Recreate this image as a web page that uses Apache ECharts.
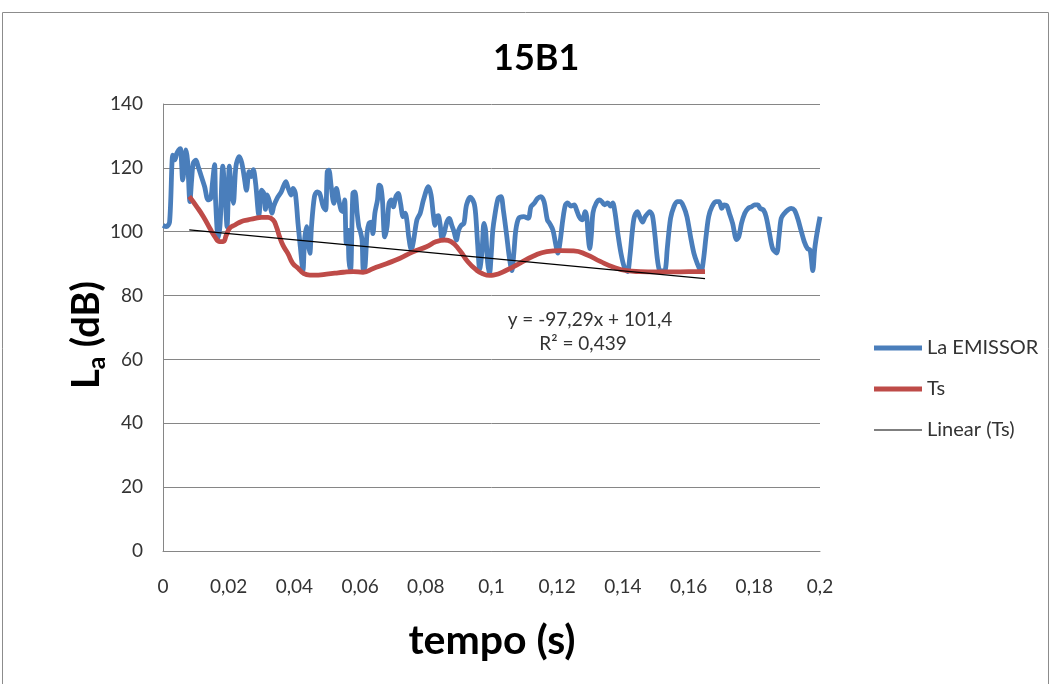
<!DOCTYPE html>
<html><head><meta charset="utf-8">
<script src="https://cdn.jsdelivr.net/npm/echarts@6/dist/echarts.min.js"></script>
<style>html,body{margin:0;padding:0;background:#fff}#c{width:1050px;height:684px}</style>
</head><body><div id="c"></div>
<script>
const chartTitle = '15B1';
const xAxisName = 'tempo (s)';
const yAxisNameParts = ['L', 'a', ' (dB)'];
const seriesNames = ['La EMISSOR', 'Ts', 'Linear (Ts)'];
const trendLabels = ['y = -97,29x + 101,4', 'R² = 0,439'];

const laEmissor = [
[0,102],[0.001,101.6],[0.002,103],[0.003,124],[0.0036,122.5],[0.0042,124.5],[0.0048,125.6],[0.0053,126],[0.006,116.2],[0.0065,120.4],[0.007,125.6],[0.0075,122],[0.0082,109.4],[0.0087,116],[0.0092,121.4],[0.010,122.4],[0.0107,120.4],[0.0117,117.2],[0.0127,114],[0.0137,110],[0.0145,110.4],[0.015,114.6],[0.0157,121],[0.016,110],[0.0168,98],[0.0174,102.7],[0.0182,120.5],[0.0189,111],[0.0195,101.6],[0.0202,120.5],[0.0208,113],[0.0214,108.9],[0.0222,120.5],[0.0232,123.5],[0.024,121.5],[0.0247,117.3],[0.0254,113],[0.0262,118.8],[0.0268,117.3],[0.0275,119.4],[0.0282,115.1],[0.0292,105.2],[0.030,113],[0.0307,112],[0.0312,107],[0.0317,111.5],[0.0324,109.5],[0.0332,105.8],[0.0337,108],[0.0347,110.4],[0.036,112.5],[0.0374,115.7],[0.038,114],[0.039,111.5],
[0.0396,113.6],[0.0403,112],[0.0411,102.6],[0.0418,95.3],[0.0426,88],[0.0431,97.4],[0.0437,101.6],[0.0442,96.3],[0.0447,93.2],[0.0452,101.6],[0.0461,111],[0.0469,112.5],[0.0477,112],[0.0488,107.8],[0.0495,106.8],[0.05,118.8],[0.0505,119.3],[0.0512,114.1],[0.052,108.9],[0.0528,113.6],[0.0535,110],[0.0542,106.8],[0.0548,106.3],[0.0553,110],[0.0558,96.3],[0.0563,100.5],[0.0566,91.1],[0.0571,88],[0.0578,112],[0.0584,112.5],[0.0591,105.8],[0.0596,101.6],[0.0601,100],[0.0606,97.4],[0.061,88],[0.0615,89],[0.0621,99.4],[0.0627,102.6],[0.0634,103],[0.0639,99.4],[0.0645,105.8],[0.0653,110],[0.0658,114.6],[0.0663,114.1],[0.0668,110],[0.0675,98.4],[0.0682,101.6],[0.0688,108.9],[0.0695,110],[0.0701,107.8],[0.0709,111],[0.0716,112],[0.0723,108.9],[0.0731,104.7],[0.0737,105.8],[0.0743,103.1],[0.0748,98.4],[0.0756,94.3],[0.0763,97.4],[0.0773,103.7],[0.0783,105.8],[0.0793,110],[0.0808,114.1],
[0.0816,111.5],[0.0823,105.2],[0.0828,102],[0.0833,104.7],[0.0838,105],[0.0844,102],[0.0849,98],[0.0856,99.6],[0.0864,103],[0.0872,104.2],[0.0879,102],[0.0886,100],[0.0893,97.4],[0.09,100.5],[0.0908,102],[0.0916,102.6],[0.0924,108.4],[0.0936,110.8],[0.0947,108.9],[0.0952,105.2],[0.0958,95.8],[0.0964,88.3],[0.0971,93.7],[0.0977,102.6],[0.0982,100.5],[0.0988,90.6],[0.0994,86.8],[0.0999,92.7],[0.1004,100.5],[0.1010,105],[0.1020,110.4],[0.1029,111],[0.1036,106.8],[0.1046,99],[0.1054,92.2],[0.1062,87.8],[0.1068,93.3],[0.1074,100.5],[0.1083,104.2],[0.1098,104.7],[0.1112,104.2],[0.112,107.8],[0.113,108.9],[0.114,110.4],[0.115,111],[0.116,109.4],[0.117,103.7],[0.1177,102.6],[0.1187,100.5],[0.1195,96.3],[0.1202,93.3],[0.1209,97],[0.1217,103.7],[0.1225,108.4],[0.1232,109],[0.1242,108],[0.1252,108.4],[0.1259,106.8],[0.1267,104.7],[0.1277,103.7],[0.1285,106.3],[0.129,104.7],[0.1294,99],[0.1299,94.7],[0.1304,99],[0.1309,106],[0.1319,109],[0.1329,110],[0.1336,109.4],[0.1344,108.4],[0.1354,109],[0.1362,108],[0.1369,109],[0.1376,106],[0.1384,99.8],[0.1394,93.3],[0.1404,89],[0.1414,87.5],[0.1421,92],[0.1429,100.5],[0.1435,104.7],[0.1444,106.3],[0.1452,104.5],[0.146,103],[0.1468,104.7],[0.1482,106.3],[0.149,105],[0.1498,98.4],[0.1504,92.2],[0.1511,88],[0.152,87.7],[0.1529,88],[0.1535,94.7],[0.1545,104.2],[0.1555,107.8],[0.1565,109.4],[0.1575,109.4],[0.1585,107.8],[0.1595,104.7],[0.1606,98.4],[0.1616,93.3],[0.1626,90.2],[0.1638,87.5],[0.1645,91],[0.1653,98.4],[0.1661,104.7],[0.1671,107.8],[0.1683,109.4],[0.1693,109.4],[0.1701,107.3],[0.1708,108.4],[0.1716,108.2],[0.1724,105.8],[0.1734,102.6],[0.1746,97.5],[0.1753,98.5],[0.1761,102.6],[0.1771,105.8],[0.1781,107.3],[0.1791,107.8],[0.1801,108.4],[0.1811,108.4],[0.1818,107.3],[0.1828,106.8],[0.1836,104.7],[0.1846,99.6],[0.1856,94.7],[0.1868,93.3],[0.1875,98.4],[0.1882,104.2],[0.1892,105.8],[0.1902,106.8],[0.1912,107.3],[0.1922,106.8],[0.1932,104.2],[0.1942,100.5],[0.1952,96.9],[0.1962,94.7],[0.197,94.2],[0.1978,87.8],[0.1984,94.7],[0.1991,99.6],[0.2,104.7]
];

const ts = [
[0.008,111],[0.0103,107.8],[0.0123,104.7],[0.0143,101],[0.0158,98.4],[0.0173,96.9],[0.0183,96.9],[0.0193,99],[0.0203,101.1],[0.0219,102.1],[0.0239,103.2],[0.0259,103.7],[0.028,104.2],[0.03,104.5],[0.032,104.5],[0.0335,103.7],[0.0345,101.6],[0.0355,98.4],[0.0365,95.8],[0.038,93.2],[0.0395,90.1],[0.0412,88.5],[0.0427,87],[0.0447,86.4],[0.0473,86.4],[0.0498,86.7],[0.0523,87],[0.0549,87.3],[0.0579,87.5],[0.0609,87.3],[0.064,88.5],[0.068,90],[0.072,91.6],[0.0761,93.7],[0.0802,95.3],[0.0832,96.9],[0.0857,97.4],[0.0877,96.9],[0.0903,94.2],[0.0928,90.6],[0.0954,88],[0.0974,86.8],[0.0994,86.3],[0.1006,86.4],[0.1047,88],[0.1087,90.2],[0.1128,92.4],[0.1168,93.8],[0.1209,94.1],[0.125,94],[0.129,92.8],[0.1331,90.7],[0.1372,88.9],[0.1412,87.8],[0.1453,87.5],[0.15,87.4],[0.155,87.4],[0.16,87.5],[0.165,87.5]
];

const linearTs = [[0.008,100.6],[0.165,85.3]];

const FONT = 'Lato, "Liberation Sans", sans-serif';
const chart = echarts.init(document.getElementById('c'));

const cv = document.createElement('canvas').getContext('2d');
const mainSize = 38, subSize = 25;
cv.font = 'bold ' + mainSize + 'px ' + FONT; const wL = cv.measureText(yAxisNameParts[0]).width;
const wRest = cv.measureText(yAxisNameParts[2]).width;
cv.font = 'bold ' + subSize + 'px ' + FONT; const wA = cv.measureText(yAxisNameParts[1]).width;
const totalW = wL + wA + wRest;
const x0 = -totalW / 2;

const fmtX = v => String(parseFloat(v.toFixed(4))).replace('.', ',');
const legendText = { fontSize: 20, color: '#333', fontFamily: FONT };

chart.setOption({
  animation: false,
  title: { text: chartTitle, left: 488, top: 35, textStyle: { fontSize: 36, fontWeight: 'bold', color: '#000', fontFamily: FONT } },
  grid: { left: 163, right: 230, top: 104, bottom: 133, containLabel: false },
  xAxis: {
    type: 'value', min: 0, max: 0.2, interval: 0.02,
    axisLine: { show: true, lineStyle: { color: '#868686', width: 1 } },
    axisTick: { show: false },
    splitLine: { show: false },
    axisLabel: { formatter: fmtX, fontSize: 19, color: '#333', margin: 26, fontFamily: FONT }
  },
  yAxis: {
    type: 'value', min: 0, max: 140, interval: 20,
    axisLine: { show: true, lineStyle: { color: '#868686', width: 1 } },
    axisTick: { show: false },
    splitLine: { show: true, lineStyle: { color: '#868686', width: 1 } },
    axisLabel: { fontSize: 19, color: '#333', margin: 20, fontFamily: FONT }
  },
  legend: [
    { data: [{ name: seriesNames[0], icon: 'rect' }], left: 869, top: 333, itemWidth: 48, itemHeight: 5, itemGap: 6, selectedMode: false, textStyle: legendText },
    { data: [{ name: seriesNames[1], icon: 'rect' }], left: 869, top: 374, itemWidth: 48, itemHeight: 5, itemGap: 6, selectedMode: false, textStyle: legendText },
    { data: [{ name: seriesNames[2], icon: 'rect' }], left: 869, top: 415, itemWidth: 48, itemHeight: 1.2, itemGap: 6, selectedMode: false, textStyle: legendText }
  ],
  series: [
    { name: seriesNames[0], type: 'line', data: laEmissor, symbol: 'none', smooth: 0.3, color: '#4a7ebb', lineStyle: { width: 4.8, color: '#4a7ebb' }, z: 2 },
    { name: seriesNames[1], type: 'line', data: ts, symbol: 'none', smooth: true, color: '#be4b48', lineStyle: { width: 4.8, color: '#be4b48' }, z: 3 },
    { name: seriesNames[2], type: 'line', data: linearTs, symbol: 'none', color: '#000', lineStyle: { width: 1.2, color: '#000' }, z: 4 }
  ],
  graphic: [
    { type: 'rect', left: 0, top: 10, shape: { width: 1046, height: 690 }, style: { fill: 'none', stroke: '#8c8c8c', lineWidth: 1 }, z: -1, silent: true },
    { type: 'group', x: 87, y: 335, rotation: Math.PI / 2, children: [
      { type: 'text', x: x0, y: 0, style: { text: yAxisNameParts[0], font: 'bold ' + mainSize + 'px ' + FONT, fill: '#000', verticalAlign: 'middle', align: 'left' } },
      { type: 'text', x: x0 + wL, y: 10, style: { text: yAxisNameParts[1], font: 'bold ' + subSize + 'px ' + FONT, fill: '#000', verticalAlign: 'middle', align: 'left' } },
      { type: 'text', x: x0 + wL + wA, y: 0, style: { text: yAxisNameParts[2], font: 'bold ' + mainSize + 'px ' + FONT, fill: '#000', verticalAlign: 'middle', align: 'left' } }
    ] },
    { type: 'text', x: 492, y: 641, style: { text: xAxisName, font: 'bold 41px ' + FONT, fill: '#000', align: 'center', verticalAlign: 'middle' } },
    { type: 'text', x: 590, y: 320, style: { text: trendLabels[0], font: '19px ' + FONT, fill: '#333', align: 'center', verticalAlign: 'middle' } },
    { type: 'text', x: 583, y: 344, style: { text: trendLabels[1], font: '19px ' + FONT, fill: '#333', align: 'center', verticalAlign: 'middle' } }
  ]
});
</script></body></html>
